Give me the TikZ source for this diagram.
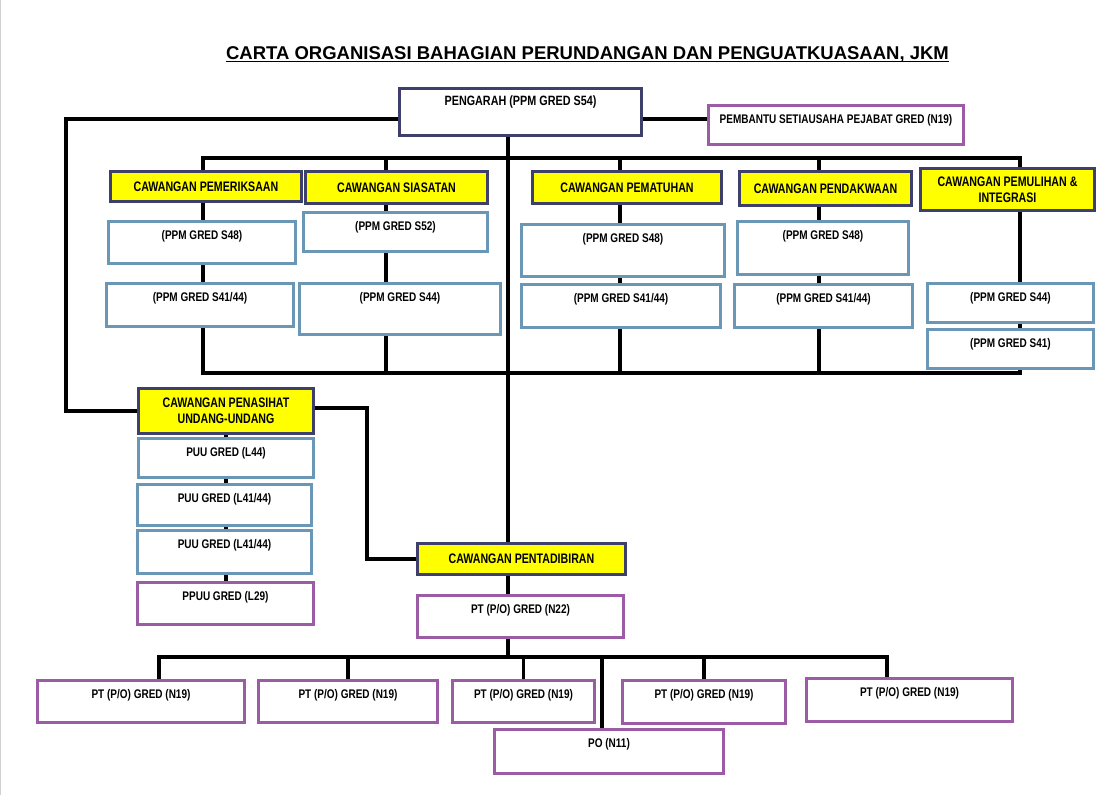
\documentclass[tikz,border=0pt]{standalone}
\usepackage{fontspec}
\setmainfont{Liberation Sans}
\newfontfamily\gradefont[FakeStretch=0.8]{Liberation Sans}
\newfontfamily\branchfont[FakeStretch=0.77]{Liberation Sans}
\usetikzlibrary{backgrounds}
\definecolor{branchyellow}{HTML}{FFFF00}
\definecolor{branchline}{HTML}{3F3F6B}
\definecolor{gradeblue}{HTML}{6B97B7}
\definecolor{clerkpurple}{HTML}{9B5BA5}

\begin{document}
\begin{tikzpicture}[x=1pt, y=-1pt,
  link/.style={line width=3.5pt, line cap=rect},
  head/.style={draw=branchline, fill=white, line width=3pt, anchor=north west, inner sep=0pt, font=\gradefont\bfseries\fontsize{13.5}{15}\selectfont, text height=17pt, text depth=#1},
  branch/.style={draw=branchline, fill=branchyellow, line width=3pt, anchor=north west, inner sep=0pt, align=center, font=\branchfont\bfseries\fontsize{13.8}{16}\selectfont},
  grade/.style={draw=gradeblue, fill=white, line width=3pt, anchor=north west, inner sep=0pt, font=\gradefont\bfseries\fontsize{12.5}{14}\selectfont, text height=18pt, text depth=#1},
  clerk/.style={grade=#1, draw=clerkpurple}]
  \useasboundingbox (0,0) rectangle (1119,795);
  \draw[gray!35, line width=1pt] (0.5,0) -- (0.5,795);

  % title
  \node[anchor=base, inner sep=0pt, font=\bfseries\fontsize{18.5}{22}\selectfont] (title) at (587.5,59) {CARTA ORGANISASI BAHAGIAN PERUNDANGAN DAN PENGUATKUASAAN, JKM};
  \draw[line width=1.5pt] ([yshift=-2.5pt]title.base west) -- ([yshift=-2.5pt]title.base east);

  % top
  \node[head=30pt, minimum width=242pt] (pengarah) at (398,87) {PENGARAH (PPM GRED S54)};
  \node[clerk=21pt, minimum width=255pt] (pembantu) at (707,104) {PEMBANTU SETIAUSAHA PEJABAT GRED (N19)};

  % branches
  \node[branch, minimum width=191pt, minimum height=30pt] (pemeriksaan) at (109,170) {CAWANGAN PEMERIKSAAN};
  \node[branch, minimum width=182pt, minimum height=32pt] (siasatan) at (304,170) {CAWANGAN SIASATAN};
  \node[branch, minimum width=189pt, minimum height=32pt] (pematuhan) at (531,170) {CAWANGAN PEMATUHAN};
  \node[branch, minimum width=172pt, minimum height=34pt] (pendakwaan) at (738,170) {CAWANGAN PENDAKWAAN};
  \node[branch, minimum width=174pt, minimum height=42pt] (pemulihan) at (919,167) {CAWANGAN PEMULIHAN \&\\INTEGRASI};
  \node[branch, minimum width=175pt, minimum height=45pt] (penasihat) at (137,387) {CAWANGAN PENASIHAT\\UNDANG-UNDANG};
  \node[branch, minimum width=208pt, minimum height=31pt] (pentadbiran) at (416,542) {CAWANGAN PENTADIBIRAN};

  % grades
  \node[grade=24pt, minimum width=187pt] (pemS48) at (107,220) {(PPM GRED S48)};
  \node[grade=25pt, minimum width=187pt] (pemS4144) at (105,282) {(PPM GRED S41/44)};
  \node[grade=21pt, minimum width=184pt] (siaS52) at (302,211) {(PPM GRED S52)};
  \node[grade=33pt, minimum width=201pt] (siaS44) at (298,282) {(PPM GRED S44)};
  \node[grade=34pt, minimum width=203pt] (patS48) at (520,223) {(PPM GRED S48)};
  \node[grade=25pt, minimum width=199pt] (patS4144) at (520,283) {(PPM GRED S41/44)};
  \node[grade=35pt, minimum width=171pt] (dakS48) at (736,220) {(PPM GRED S48)};
  \node[grade=25pt, minimum width=178pt] (dakS4144) at (733,283) {(PPM GRED S41/44)};
  \node[grade=21pt, minimum width=166pt] (pulS44) at (926,282) {(PPM GRED S44)};
  \node[grade=21pt, minimum width=166pt] (pulS41) at (926,328) {(PPM GRED S41)};
  \node[grade=21pt, minimum width=175pt] (puuL44) at (137,437) {PUU GRED (L44)};
  \node[grade=23pt, minimum width=174pt] (puuA) at (136,483) {PUU GRED (L41/44)};
  \node[grade=25pt, minimum width=174pt] (puuB) at (136,529) {PUU GRED (L41/44)};
  \node[clerk=24pt, minimum width=176pt] (ppuu) at (136,581) {PPUU GRED (L29)};
  \node[clerk=24pt, minimum width=206pt] (ptN22) at (416,594) {PT (P/O) GRED (N22)};

  % staff
  \foreach \n/\x/\y/\w/\d in {staffA/36/679/207/24, staffB/257/679/179/24, staffC/451/679/142/24, staffD/621/679/163/25, staffE/805/677/206/25}
    \node[clerk=\d pt, minimum width=\w pt] (\n) at (\x,\y) {PT (P/O) GRED (N19)};
  \node[clerk=26pt, minimum width=229pt] (po) at (493,728) {PO (N11)};

  \coordinate (leftTurn) at (66,119);
  \coordinate (adminTurn) at (367,408);
  \coordinate (spine) at (508,134);
  \coordinate (colPem) at (203,158);
  \coordinate (colSia) at (386,158);
  \coordinate (colPat) at (620,158);
  \coordinate (colDak) at (819,158);
  \coordinate (colPul) at (1020,158);
  \coordinate (lowBus) at (203,373);
  \coordinate (staffL) at (159,657);
  \coordinate (staffR) at (887,657);
  \coordinate (poDrop) at (602,657);

  \begin{pgfonlayer}{background}
    \draw[link] (pengarah.west |- leftTurn) -- (leftTurn) |- (penasihat.west);
    \draw[link] (pengarah.east |- leftTurn) -- (pembantu.west |- leftTurn);
    \draw[link] (penasihat.east |- adminTurn) -- (adminTurn) |- (pentadbiran.west);
    \draw[link] (pengarah.south -| spine) -- (pentadbiran.north -| spine);
    \draw[link] (colPem) -- (colPul);
    \draw[link] (lowBus) -- (lowBus -| colPul);
    \foreach \c in {colPem,colSia,colPat,colDak,colPul}
      \draw[link] (\c) -- (\c |- lowBus);
    \draw[link] (penasihat.south) -- (penasihat.south |- ppuu.north);
    \draw[link] (pentadbiran.south -| spine) -- (ptN22.north -| spine);
    \draw[link] (ptN22.south -| spine) -- (spine |- staffL);
    \draw[link] (staffL) -- (staffR);
    \draw[link] (staffL) -- (staffL |- staffA.north);
    \draw[link] (staffR) -- (staffR |- staffE.north);
    \foreach \n in {staffB,staffC,staffD}
      \draw[link] (\n.north) -- (\n.north |- staffL);
    \draw[link] (poDrop) -- (poDrop |- po.north);
  \end{pgfonlayer}
\end{tikzpicture}
\end{document}
